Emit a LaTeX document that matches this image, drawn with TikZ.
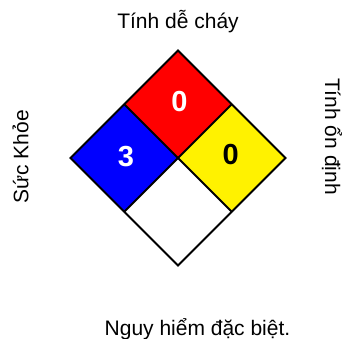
\documentclass[tikz,border=0pt]{standalone}
\usepackage{fontspec}
\setmainfont{Liberation Sans}
\begin{document}
\begin{tikzpicture}[x=1pt,y=-1pt,
  cell/.style={draw=black,line width=2pt,line join=miter},
  label/.style={font=\fontsize{21}{24}\selectfont,inner sep=0pt,anchor=base},
  rating/.style={font=\fontsize{29}{32}\selectfont\bfseries,inner sep=0pt,anchor=base}]
  \useasboundingbox[fill=white] (0,0) rectangle (343,338);
  % corners of the hazard diamond
  \def\h{53.75}
  \coordinate (C) at (178,158);
  \coordinate (T) at (178,{158-2*\h});
  \coordinate (B) at (178,{158+2*\h});
  \coordinate (L) at ({178-2*\h},158);
  \coordinate (R) at ({178+2*\h},158);
  \coordinate (TL) at ({178-\h},{158-\h});
  \coordinate (TR) at ({178+\h},{158-\h});
  \coordinate (BL) at ({178-\h},{158+\h});
  \coordinate (BR) at ({178+\h},{158+\h});
  % four quadrants
  \fill[red]          (T) -- (TR) -- (C) -- (TL) -- cycle;
  \fill[blue]         (TL) -- (C) -- (BL) -- (L) -- cycle;
  \fill[yellow]       (TR) -- (R) -- (BR) -- (C) -- cycle;
  \fill[white]        (C) -- (BR) -- (B) -- (BL) -- cycle;
  \draw[cell] (T) -- (R) -- (B) -- (L) -- cycle;
  \draw[cell] (TL) -- (BR);
  \draw[cell] (TR) -- (BL);
  % ratings
  \node[rating,text=white] (fire)   at (179.5,111)   {0};
  \node[rating,text=white] (health) at (126,166.7)   {3};
  \node[rating,text=black] (react)  at (230.7,164)   {0};
  % captions
  \node[label] (flam)    at (178,28.3)            {Tính dễ cháy};
  \node[label,rotate=90]  (healthl) at (28.3,156.7) {Sức Khỏe};
  \node[label,rotate=-90] (stab)    at (325,136.5)  {Tính ổn định};
  \node[label] (special) at (197.5,335)           {Nguy hiểm đặc biệt.};
\end{tikzpicture}
\end{document}
